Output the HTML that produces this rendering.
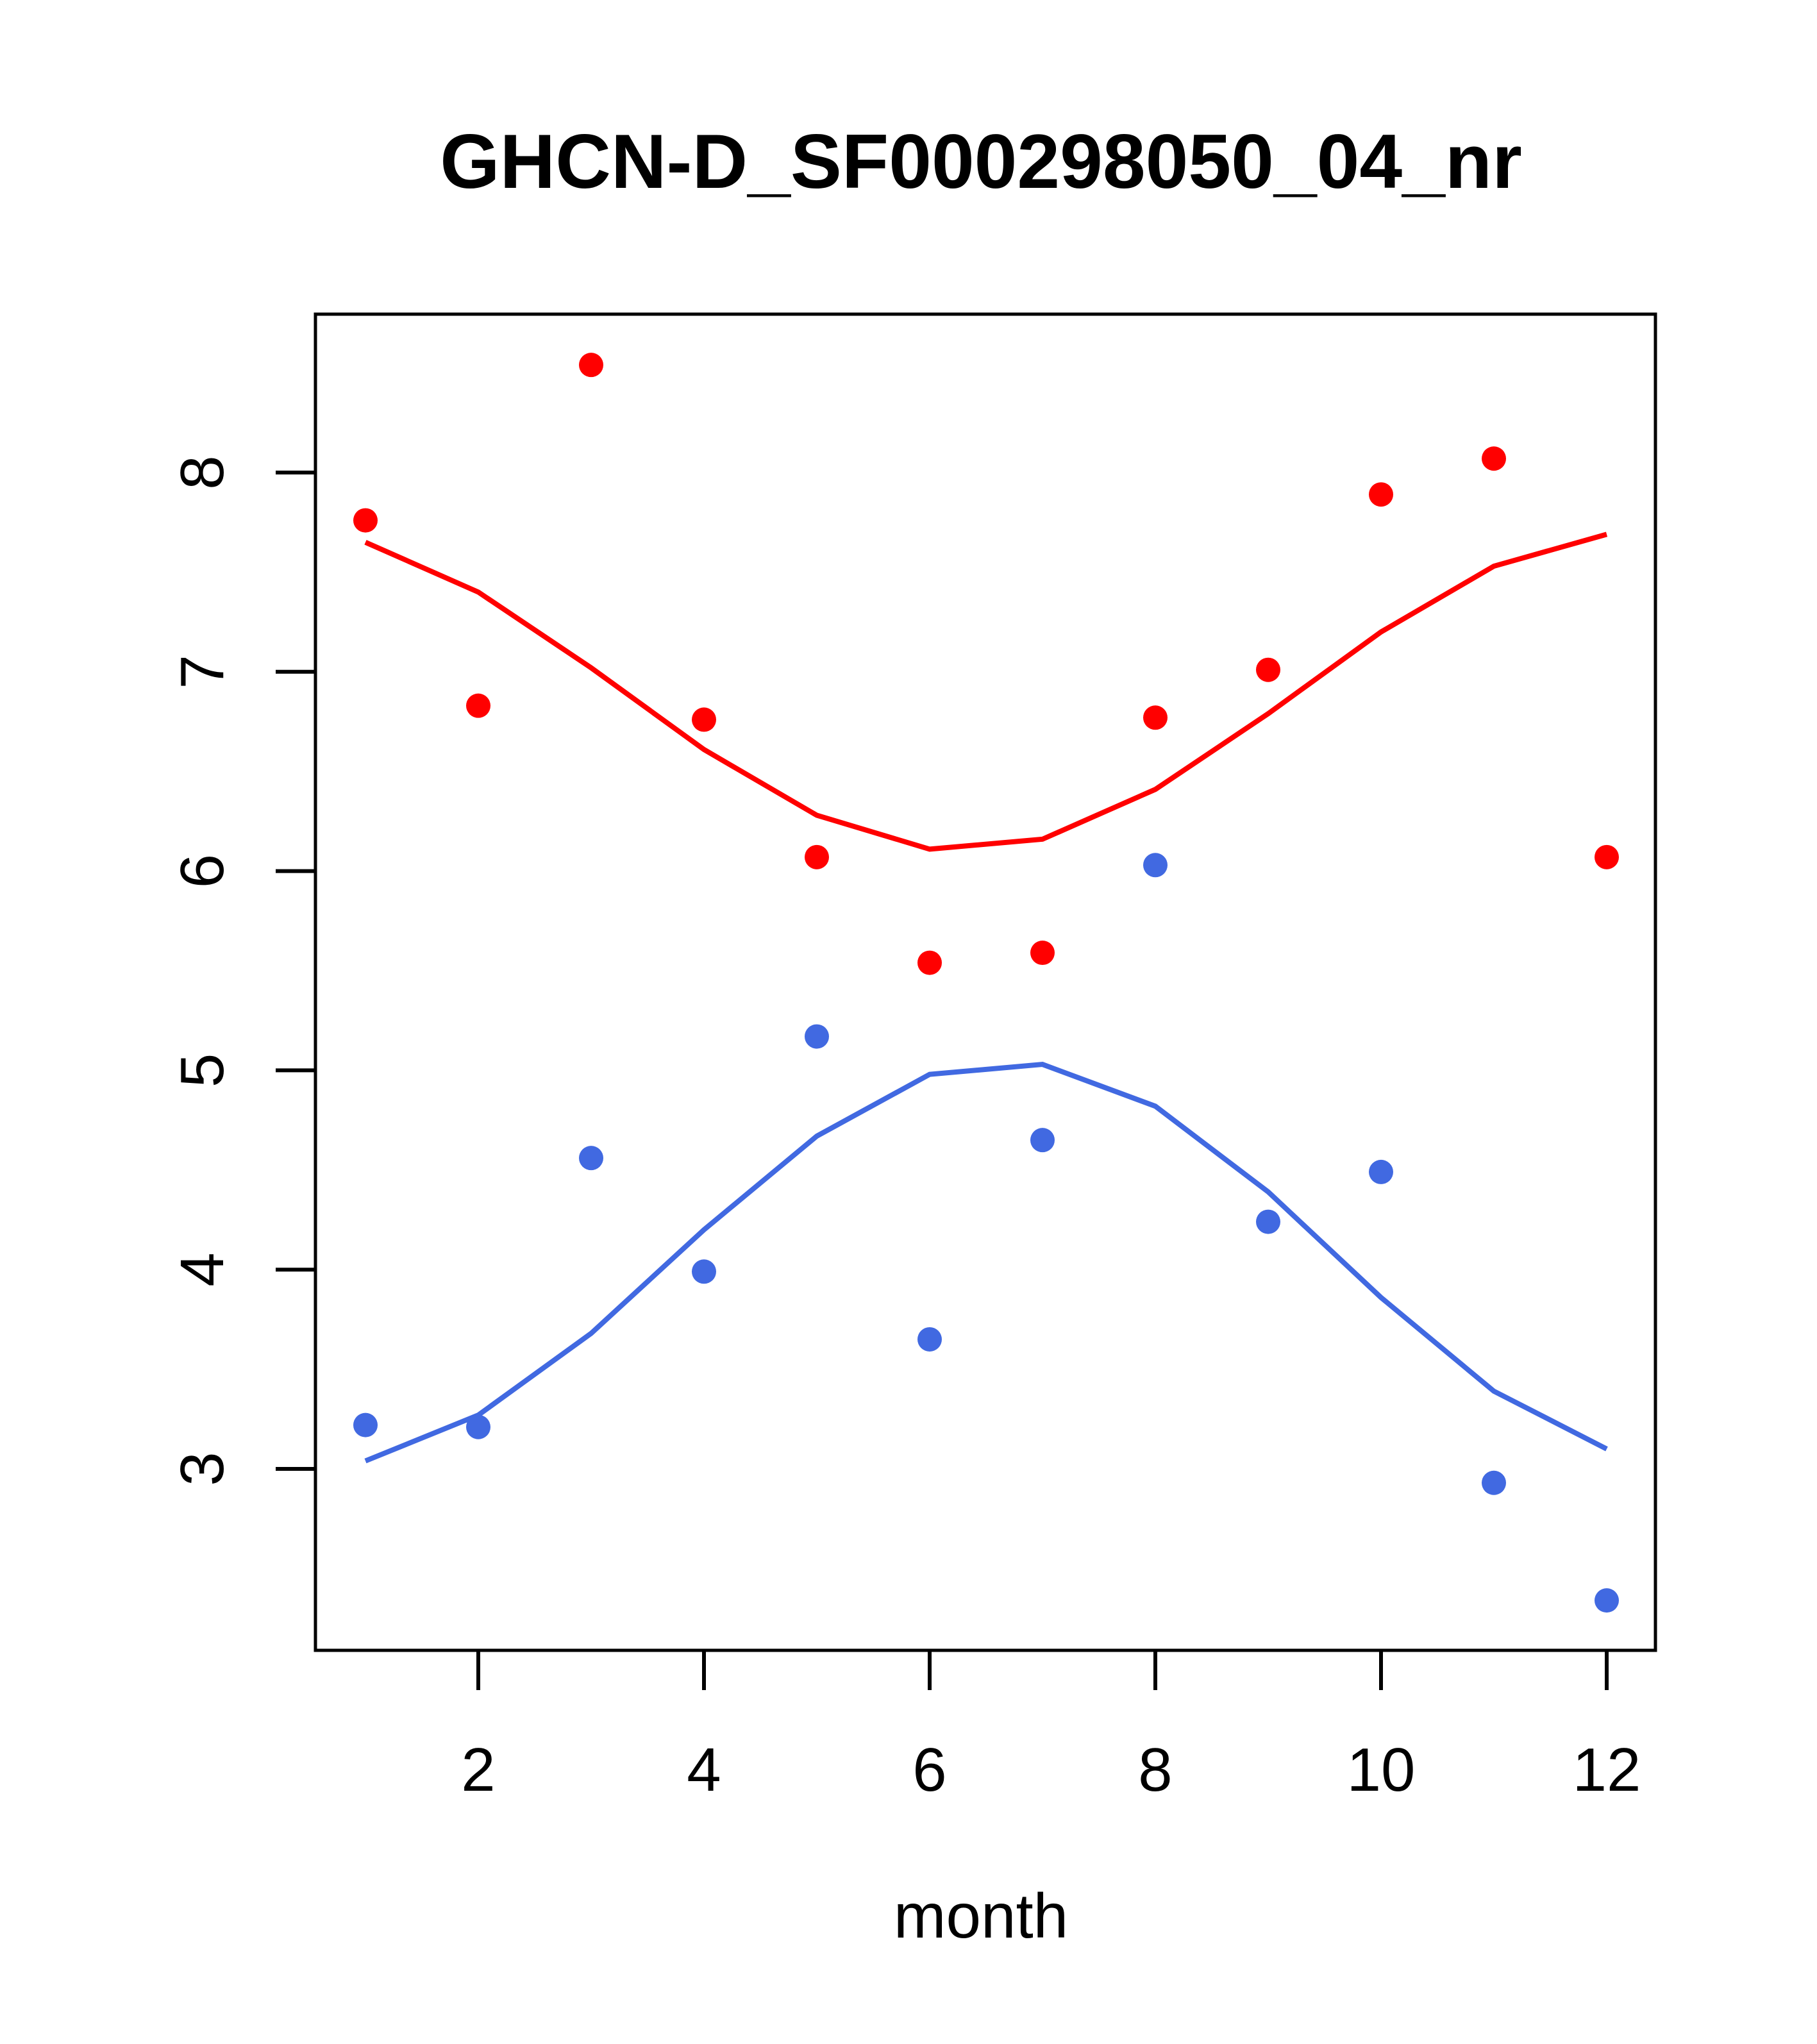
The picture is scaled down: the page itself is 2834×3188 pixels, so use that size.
<!DOCTYPE html>
<html><head><meta charset="utf-8"><style>html,body{margin:0;padding:0;background:#fff}svg{display:block}</style></head>
<body>
<svg id="chart" width="2834" height="3188" viewBox="0 0 2834 3188" xmlns="http://www.w3.org/2000/svg" font-family="'Liberation Sans', sans-serif">
<rect width="2834" height="3188" fill="#fff"/>
<text x="1530" y="293" font-size="120" font-weight="bold" text-anchor="middle">GHCN-D_SF000298050_04_nr</text>
<text x="1530" y="3022" font-size="98" text-anchor="middle">month</text>
<g id="layer"></g>
<rect x="492" y="490" width="2090" height="2084" fill="none" stroke="#000" stroke-width="5"/>
</svg>
<script>
const months=[1,2,3,4,5,6,7,8,9,10,11,12];
const redPoints=[7.76,6.83,8.54,6.76,6.07,5.54,5.59,6.77,7.01,7.89,8.07,6.07];
const redLine=[7.65,7.40,7.02,6.61,6.28,6.11,6.16,6.41,6.79,7.20,7.53,7.69];
const bluePoints=[3.22,3.21,4.56,3.99,5.17,3.65,4.65,6.03,4.24,4.49,2.93,2.34];
const blueLine=[3.04,3.27,3.68,4.20,4.67,4.98,5.03,4.82,4.39,3.86,3.39,3.10];
const xTicks=[2,4,6,8,10,12];
const yTicks=[3,4,5,6,7,8];
const NS="http://www.w3.org/2000/svg";
const X=m=>570+(m-1)*176.0;
const Y=v=>737+(8-v)*310.8;
const g=document.getElementById('layer');
function mk(t,a){const e=document.createElementNS(NS,t);for(const k in a)e.setAttribute(k,a[k]);g.appendChild(e);return e;}
xTicks.forEach(t=>{
 const l=mk('line',{x1:X(t),x2:X(t),y1:2574,y2:2636,stroke:'#000','stroke-width':6});
 
 
 const tx=mk('text',{x:X(t),y:2793,'font-size':96,'text-anchor':'middle'});tx.textContent=t;
 
 
});
yTicks.forEach(t=>{
 const l=mk('line',{x1:430,x2:492,y1:Y(t),y2:Y(t),stroke:'#000','stroke-width':6});
 
 
 const tx=mk('text',{x:0,y:0,'font-size':96,'text-anchor':'middle',transform:`translate(348,${Y(t)}) rotate(-90)`});tx.textContent=t;
 
 
});
function line(vals,col,name){
 const p=mk('polyline',{points:vals.map((v,i)=>X(months[i])+','+Y(v)).join(' '),fill:'none',stroke:col,'stroke-width':8});
 
 
}
function pts(vals,col,name){
 vals.forEach((v,i)=>{
  const c=mk('circle',{cx:X(months[i]),cy:Y(v),r:19,fill:col});
  
  
 });
}
line(redLine,'#ff0000','red-smooth-line');
line(blueLine,'#4169e1','blue-smooth-line');
pts(redPoints,'#ff0000','red-point');
pts(bluePoints,'#4169e1','blue-point');
</script>
</body></html>
